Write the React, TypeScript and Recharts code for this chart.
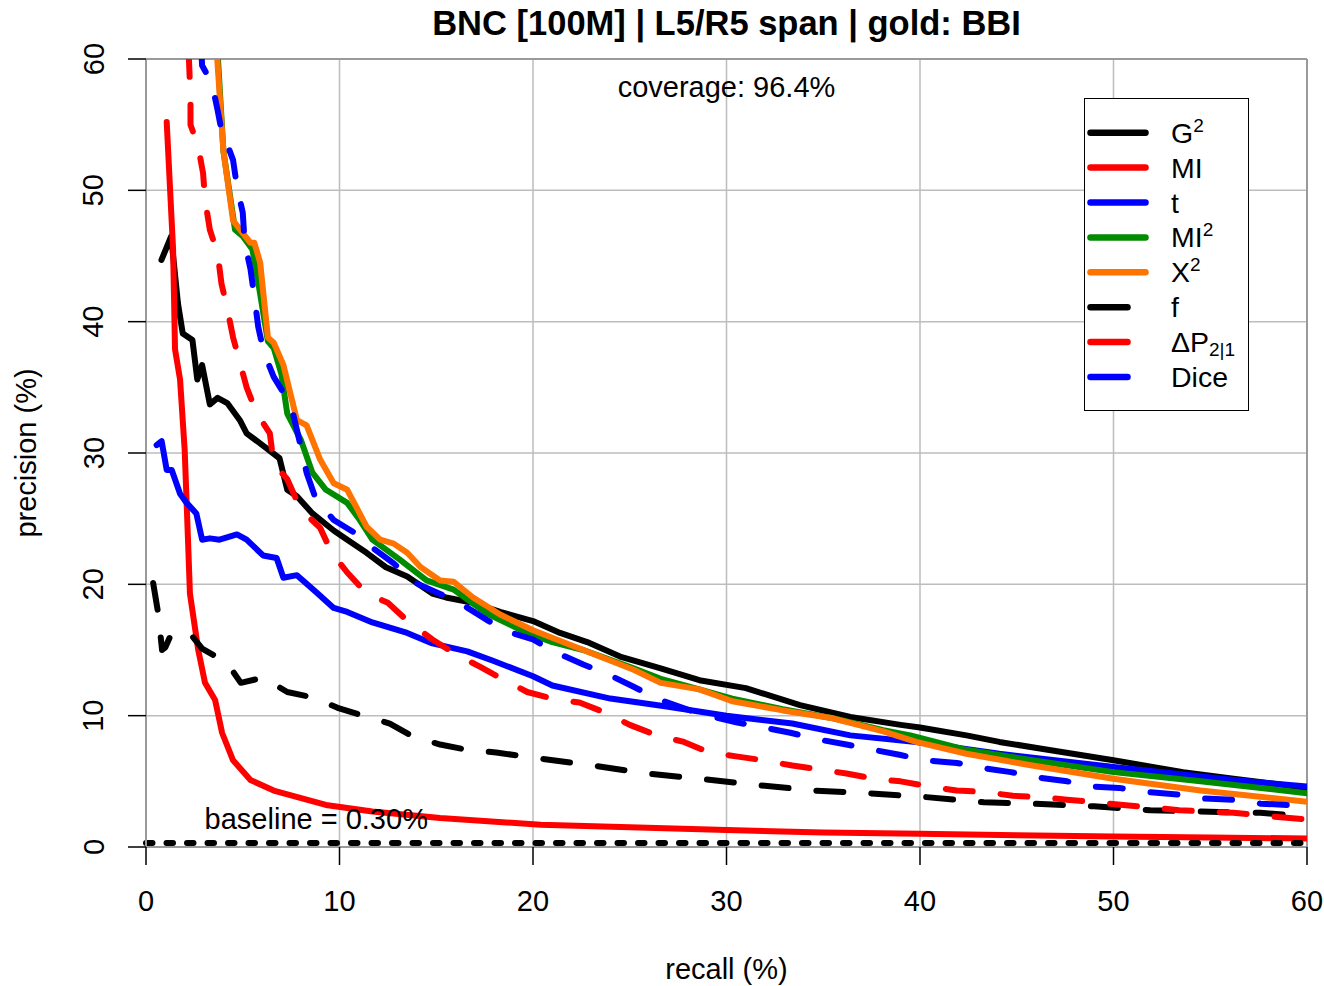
import React from 'react';
import { LineChart, Line, XAxis, YAxis, CartesianGrid, ReferenceLine, ReferenceDot, Legend } from 'recharts';

// [recall %, precision %]
const G2: [number, number][] = [
  [0.8, 44.7], [1.3, 46.5], [1.65, 41.4], [1.9, 39.1], [2.4, 38.6], [2.65, 35.6], [2.9, 36.7], [3.3, 33.7],
  [3.7, 34.2], [4.2, 33.8], [4.85, 32.5], [5.2, 31.5], [6.1, 30.5], [6.9, 29.6], [7.3, 27.2], [7.8, 26.7],
  [8.6, 25.4], [9.7, 24.1], [10.4, 23.4], [11.4, 22.4], [12.4, 21.3], [13.5, 20.6], [14.8, 19.3], [15.5, 19.0],
  [16.9, 18.6], [18.3, 17.9], [20.0, 17.2], [21.4, 16.3], [22.8, 15.6], [24.5, 14.5], [26.6, 13.6], [28.6, 12.7],
  [31.0, 12.1], [33.8, 10.8], [36.4, 9.9], [39.0, 9.3], [40.0, 9.1], [42.4, 8.5], [44.1, 8.0], [46.6, 7.4],
  [50.0, 6.6], [53.6, 5.7], [56.2, 5.2], [60, 4.5],
];

const MI: [number, number][] = [
  [1.07, 55.2], [1.4, 45.5], [1.5, 37.9], [1.76, 35.6], [2.0, 30.2], [2.17, 23.4], [2.27, 19.3], [2.7, 15.0],
  [3.05, 12.5], [3.57, 11.2], [3.93, 8.7], [4.5, 6.6], [5.4, 5.1], [6.6, 4.3], [8.3, 3.6], [9.3, 3.2],
  [11.7, 2.7], [15.2, 2.2], [20.4, 1.7], [25, 1.5], [30, 1.3], [35, 1.1], [40, 1.0], [45, 0.9], [50, 0.8],
  [55, 0.72], [60, 0.65],
];

const T: [number, number][] = [
  [0.55, 30.6], [0.81, 30.9], [1.07, 28.7], [1.33, 28.7], [1.76, 26.9], [2.1, 26.2], [2.6, 25.4], [2.9, 23.4],
  [3.3, 23.5], [3.8, 23.4], [4.7, 23.8], [5.2, 23.4], [6.05, 22.2], [6.75, 22.0], [7.1, 20.5], [7.8, 20.7],
  [8.8, 19.4], [9.7, 18.2], [10.4, 17.9], [11.7, 17.1], [13.5, 16.3], [14.8, 15.5], [16.6, 14.9], [17.9, 14.2],
  [20.0, 13.0], [21.0, 12.3], [24.0, 11.3], [26.9, 10.7], [30.0, 10.0], [33.4, 9.4], [36.4, 8.5], [39.8, 8.0],
  [44.1, 7.1], [50, 6.1], [56.2, 5.1], [60, 4.6],
];

const MI2: [number, number][] = [
  [3.7, 60.5], [4.0, 53], [4.6, 47], [5.0, 46.5], [5.5, 45.5], [5.8, 43], [6.3, 38.5], [6.6, 38.0],
  [7.0, 36], [7.3, 33], [8.0, 31], [8.6, 28.5], [9.3, 27.2], [10.4, 26.2], [11.0, 25], [11.7, 23.4],
  [13.1, 21.9], [14.5, 20.3], [15.9, 19.6], [17.6, 17.8], [19.7, 16.3], [21, 15.6], [22.6, 15.0], [25.2, 13.6],
  [26.6, 12.8], [28.6, 12.0], [30.3, 11.3], [32.9, 10.5], [35.5, 9.8], [38.1, 8.9], [39.5, 8.5], [42.4, 7.4],
  [45.8, 6.6], [50, 5.7], [54.5, 5.0], [60, 4.1],
];

const X2: [number, number][] = [
  [3.65, 60.7], [4.0, 53], [4.5, 47.7], [5.4, 46], [5.6, 46], [5.9, 44.5], [6.3, 38.8], [6.6, 38.4],
  [7.1, 36.7], [7.8, 32.5], [8.3, 32.1], [9.0, 29.5], [9.7, 27.7], [10.4, 27.2], [11.4, 24.4], [12.1, 23.4],
  [12.8, 23.1], [13.5, 22.4], [14.2, 21.3], [15.2, 20.3], [15.9, 20.2], [16.9, 19.0], [18.3, 17.7], [20.0, 16.5],
  [22.6, 15.0], [25.2, 13.5], [26.6, 12.5], [28.6, 12.0], [30.3, 11.1], [32.9, 10.4], [35.5, 9.8], [38.1, 8.8],
  [39.8, 8.0], [42.4, 7.1], [45.8, 6.2], [50, 5.2], [54.5, 4.3], [60, 3.45],
];

const F: [number, number][] = [
  [0.37, 20.1], [0.63, 17.8], [0.83, 15.0], [1.0, 15.2], [1.24, 16.0], [2.2, 16.4], [2.9, 15.1], [3.5, 14.6],
  [4.2, 14.0], [4.9, 12.5], [6.05, 12.9], [7.3, 11.8], [8.6, 11.4], [9.9, 10.6], [11.2, 10.0], [12.6, 9.4],
  [13.8, 8.4], [15.2, 7.8], [16.6, 7.4], [18.1, 7.2], [20.0, 6.8], [23.1, 6.2], [25.9, 5.6], [28.6, 5.2],
  [31.7, 4.7], [34.5, 4.3], [37.3, 4.1], [40.3, 3.8], [43.3, 3.4], [45.8, 3.3], [49, 3.1], [51.9, 2.8],
  [54.5, 2.7], [57.6, 2.6], [60, 2.35],
];

const DP: [number, number][] = [
  [2.2, 60.7], [2.3, 57], [2.3, 55], [2.7, 53.3], [2.95, 51.3], [3.05, 49.3], [3.3, 47], [3.7, 45.2],
  [3.9, 42.9], [4.2, 41.0], [4.5, 38.8], [4.85, 36.9], [5.2, 35.0], [5.7, 33.1], [6.4, 31.5], [6.6, 29.2],
  [7.3, 28.0], [8.0, 25.7], [9.0, 24.3], [9.6, 22.4], [10.4, 20.9], [11.4, 19.3], [12.5, 18.6], [13.6, 17.1],
  [14.8, 15.8], [16.1, 14.6], [17.3, 13.7], [18.4, 12.8], [19.7, 11.8], [21.0, 11.3], [22.4, 11.0], [23.8, 10.2],
  [25.0, 9.3], [26.4, 8.5], [27.8, 8.0], [29.1, 7.2], [30.5, 6.9], [31.9, 6.6], [33.4, 6.2], [34.8, 5.9],
  [36.2, 5.6], [37.6, 5.2], [39, 5.0], [40.5, 4.6], [41.9, 4.3], [43.3, 4.2], [44.8, 3.9], [46.2, 3.8],
  [47.6, 3.6], [49.1, 3.4], [50.5, 3.2], [52, 3.0], [53.4, 2.8], [54.8, 2.7], [56.2, 2.6], [57.7, 2.4],
  [59.1, 2.2], [60, 2.1],
];

const DICE: [number, number][] = [
  [2.85, 61], [2.9, 59.5], [3.4, 58.2], [3.7, 56.1], [4.0, 53.8], [4.3, 53.1], [4.5, 52.3], [4.7, 50.3],
  [5.0, 48.3], [5.1, 46], [5.4, 44], [5.6, 41.9], [5.8, 39.6], [6.1, 37.6], [6.6, 35.8], [7.1, 34.6],
  [7.6, 33], [8.0, 30.5], [8.3, 28.5], [8.8, 26.4], [9.7, 24.9], [10.7, 24.0], [11.6, 22.9], [12.8, 21.6],
  [13.8, 20.2], [15.0, 19.4], [16.2, 18.6], [17.6, 17.3], [18.7, 16.4], [20.0, 15.8], [21.2, 14.8], [22.6, 13.9],
  [23.8, 13.2], [25.2, 12.2], [26.4, 11.3], [28.5, 10.2], [30.5, 9.5], [31.9, 9.1], [33.3, 8.7], [34.7, 8.2],
  [36.2, 7.8], [37.6, 7.4], [39, 7.0], [40.3, 6.6], [41.9, 6.4], [43.3, 6.0], [44.7, 5.7], [46, 5.3],
  [47.6, 5.0], [49, 4.6], [50.3, 4.5], [51.7, 4.2], [53.3, 4.0], [54.6, 3.7], [56.2, 3.6], [57.6, 3.3],
  [59, 3.2], [60, 3.0],
];

const X_TICKS = [0, 10, 20, 30, 40, 50, 60];
const Y_TICKS = [0, 10, 20, 30, 40, 50, 60];
const BASELINE = 0.3;
const COVERAGE = 96.4;

const FONT = '"Liberation Sans", Arial, Helvetica, sans-serif';
const FS = 29;
const DASH = '27 28';
const LW = 6;

const toPoints = (pairs: [number, number][]) => pairs.map(([recall, precision]) => ({ recall, precision }));

const series = [
  { key: 'G2', label: 'G', sup: '2', data: G2, color: '#000000', dashed: false },
  { key: 'MI', label: 'MI', data: MI, color: '#ff0000', dashed: false },
  { key: 't', label: 't', data: T, color: '#0000ff', dashed: false },
  { key: 'MI2', label: 'MI', sup: '2', data: MI2, color: '#008b00', dashed: false },
  { key: 'X2', label: 'X', sup: '2', data: X2, color: '#ff7400', dashed: false },
  { key: 'f', label: 'f', data: F, color: '#000000', dashed: true },
  { key: 'dp', label: 'ΔP', sub: '2|1', data: DP, color: '#ff0000', dashed: true },
  { key: 'dice', label: 'Dice', data: DICE, color: '#0000ff', dashed: true },
] as { key: string; label: string; sup?: string; sub?: string; data: [number, number][]; color: string; dashed: boolean }[];

const XTick = (props: any) => {
  const { x, y, payload } = props;
  return (
    <text x={x} y={y + 46} textAnchor="middle" fontSize={FS} fontFamily={FONT} fill="#000">
      {payload.value}
    </text>
  );
};

const YTick = (props: any) => {
  const { x, y, payload } = props;
  const bx = x - 24.5;
  return (
    <text x={bx} y={y} transform={`rotate(-90, ${bx}, ${y})`} textAnchor="middle" fontSize={FS} fontFamily={FONT} fill="#000">
      {payload.value}
    </text>
  );
};

const LegendBox = () => (
  <svg width={165} height={313} style={{ display: 'block' }}>
    <rect x={0.5} y={0.5} width={164} height={312} fill="#fff" stroke="#000" strokeWidth={1} />
    {series.map((s, i) => {
      const cy = 34.7 + i * 34.9;
      return (
        <g key={s.key}>
          <line x1={6.5} x2={s.dashed ? 43.5 : 61.5} y1={cy} y2={cy} stroke={s.color} strokeWidth={6.5} strokeLinecap="round" />
          <text x={87} y={cy + 10} fontSize={28.5} fontFamily={FONT} fill="#000">
            {s.label}
            {s.sup && <tspan fontSize={19} dy={-11}>{s.sup}</tspan>}
            {s.sub && <tspan fontSize={19} dy={4}>{s.sub}</tspan>}
          </text>
        </g>
      );
    })}
  </svg>
);

export default function App() {
  return (
    <div style={{ position: 'absolute', left: 0, top: 0, width: 1324, height: 986, background: '#fff' }}>
      <div
        style={{
          position: 'absolute', left: 146, width: 1161, top: 3.5, textAlign: 'center',
          fontFamily: FONT, fontWeight: 'bold', fontSize: 34.5, lineHeight: '38px', color: '#000',
        }}
      >
        BNC [100M] | L5/R5 span | gold: BBI
      </div>
      <LineChart width={1324} height={986} margin={{ top: 59, right: 17, bottom: 0, left: 0 }}>
        <CartesianGrid stroke="#bdbdbd" strokeWidth={1.5} horizontalValues={Y_TICKS} verticalValues={X_TICKS} />
        <XAxis
          type="number"
          dataKey="recall"
          domain={[0, 60]}
          ticks={X_TICKS}
          height={139}
          tickSize={18}
          tickMargin={0}
          tick={XTick}
          tickLine={{ stroke: '#000', strokeWidth: 1.5 }}
          axisLine={{ stroke: '#9a9a9a', strokeWidth: 2 }}
          allowDataOverflow
          label={(p: any) => {
            const vb = p.viewBox;
            return (
              <text x={vb.x + vb.width / 2} y={vb.y + 132} textAnchor="middle" fontSize={FS} fontFamily={FONT} fill="#000">
                recall (%)
              </text>
            );
          }}
        />
        <YAxis
          type="number"
          domain={[0, 60]}
          ticks={Y_TICKS}
          width={146}
          tickSize={18}
          tickMargin={0}
          tick={YTick}
          tickLine={{ stroke: '#000', strokeWidth: 1.5 }}
          axisLine={{ stroke: '#9a9a9a', strokeWidth: 2 }}
          allowDataOverflow
          label={(p: any) => {
            const vb = p.viewBox;
            const cy = vb.y + vb.height / 2;
            return (
              <text x={36} y={cy} transform={`rotate(-90, 36, ${cy})`} textAnchor="middle" fontSize={FS} fontFamily={FONT} fill="#000">
                precision (%)
              </text>
            );
          }}
        />
        <ReferenceLine y={60} stroke="#9a9a9a" strokeWidth={2} />
        <ReferenceLine x={60} stroke="#9a9a9a" strokeWidth={2} />
        <ReferenceDot
          x={8.8}
          y={2.18}
          r={0}
          fill="none"
          stroke="none"
          label={{ value: `baseline = ${BASELINE.toFixed(2)}%`, position: 'center', fontSize: FS, fontFamily: FONT, fill: '#000' }}
        />
        <ReferenceDot
          x={30}
          y={57.9}
          r={0}
          fill="none"
          stroke="none"
          label={{ value: `coverage: ${COVERAGE}%`, position: 'center', fontSize: FS, fontFamily: FONT, fill: '#000' }}
        />
        {series.map((s) => (
          <Line
            key={s.key}
            data={toPoints(s.data)}
            dataKey="precision"
            type="linear"
            stroke={s.color}
            strokeWidth={LW}
            strokeDasharray={s.dashed ? DASH : undefined}
            strokeLinecap="round"
            strokeLinejoin="round"
            dot={false}
            activeDot={false}
            isAnimationActive={false}
          />
        ))}
        <ReferenceLine y={BASELINE} stroke="#000" strokeWidth={LW} strokeDasharray="6.5 14" strokeLinecap="round" />
        <Legend
          layout="horizontal"
          verticalAlign="middle"
          align="center"
          content={LegendBox}
          wrapperStyle={{ left: 1084, top: 98, width: 165, height: 313 }}
        />
      </LineChart>
    </div>
  );
}
